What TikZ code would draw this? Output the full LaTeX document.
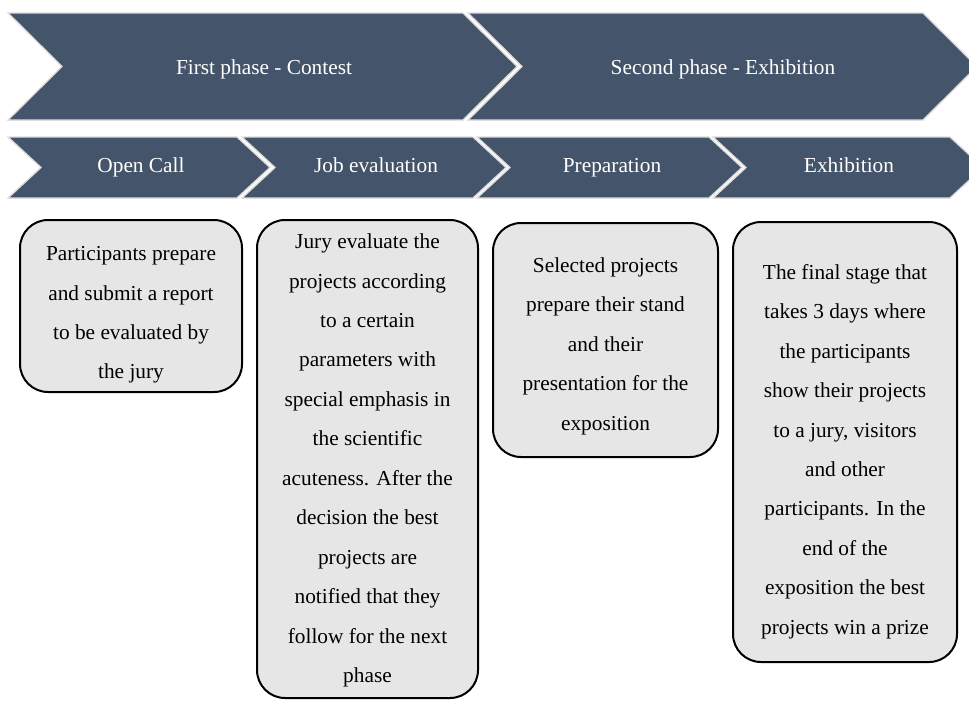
\documentclass[tikz,border=0pt]{standalone}
\usepackage{fontspec}
\setmainfont{Liberation Serif}
\usetikzlibrary{fit}
\definecolor{slate}{HTML}{44546A}
\definecolor{boxgray}{HTML}{E7E6E6}
\definecolor{chevedge}{HTML}{DCDCDC}
% chevron: left x, corner x, top y, bottom y, point depth
\newcommand{\chevron}[5]{%
  \draw[chev] (#1,#3) -- (#2,#3) -- ({#2+#5},{(#3+#4)/2}) -- (#2,#4)
    -- (#1,#4) -- ({#1+#5},{(#3+#4)/2}) -- cycle;}
\begin{document}
\begin{tikzpicture}[x=0.75pt,y=-0.75pt,
  chev/.style={fill=slate,draw=chevedge,line width=1pt,line join=miter},
  chevlabel/.style={text=white,inner sep=0pt,anchor=base,font=\fontsize{16}{19}\selectfont},
  box/.style={draw=black,line width=1.5pt,fill=boxgray,rounded corners=21pt,inner sep=0pt},
  boxtext/.style={align=center,inner sep=0pt,font=\fontsize{16}{29.6}\selectfont}]
\useasboundingbox (0,0) rectangle (969,700);
\clip (0,0) rectangle (969,700);

% phase band
\chevron{8}{463}{13}{120}{54}
\chevron{468}{923}{13}{120}{54}
\node[chevlabel] (h1) at (264,74) {First phase - Contest};
\node[chevlabel] (h2) at (723,74) {Second phase - Exhibition};

% stage band
\chevron{8}{237}{137}{198}{33}
\chevron{242}{473}{137}{198}{33}
\node[chevlabel] (s1) at (141,172) {Open Call};
\node[chevlabel] (s2) at (376,172) {Job evaluation};
\chevron{477}{709}{137}{198}{33}
\chevron{713}{950}{137}{198}{33}
\node[chevlabel] (s3) at (612,172) {Preparation};
\node[chevlabel] (s4) at (849,172) {Exhibition};

% description boxes
\node[box, fit={(20,220) (242,392)}] (b1) {};
\node[boxtext] (t1) at (131,315) {Participants prepare\\and submit a report\\to be evaluated by\\the jury};

\node[box, fit={(257,220) (478,698)}] (b2) {};
\node[boxtext] (t2) at (367.5,460.5) {Jury evaluate the\\projects according\\to a certain\\parameters with\\special emphasis in\\the scientific\\acuteness. After the\\decision the best\\projects are\\notified that they\\follow for the next\\phase};

\node[box, fit={(493,223) (718,457)}] (b3) {};
\node[boxtext] (t3) at (605.5,346) {Selected projects\\prepare their stand\\and their\\presentation for the\\exposition};

\node[box, fit={(733,222) (957,662)}] (b4) {};
\node[boxtext] (t4) at (845,451.5) {The final stage that\\takes 3 days where\\the participants\\show their projects\\to a jury, visitors\\and other\\participants. In the\\end of the\\exposition the best\\projects win a prize};
\end{tikzpicture}
\end{document}
